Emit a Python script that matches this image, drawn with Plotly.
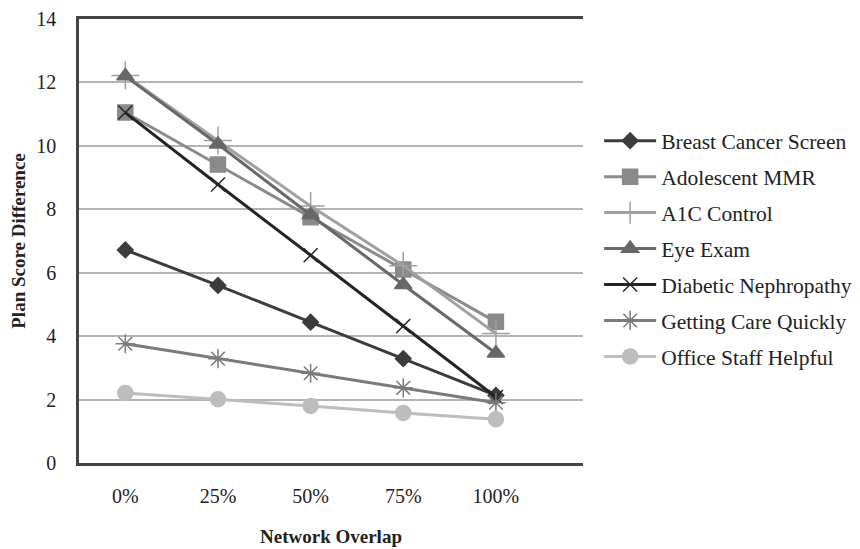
import plotly.graph_objects as go

categories = ["0%", "25%", "50%", "75%", "100%"]

breast_cancer_screen = [6.72, 5.60, 4.44, 3.29, 2.13]
adolescent_mmr = [11.05, 9.41, 7.75, 6.10, 4.45]
a1c_control = [12.22, 10.17, 8.10, 6.22, 4.08]
eye_exam = [12.20, 10.05, 7.82, 5.62, 3.46]
diabetic_nephropathy = [11.05, 8.78, 6.55, 4.32, 2.08]
getting_care_quickly = [3.76, 3.29, 2.83, 2.37, 1.90]
office_staff_helpful = [2.21, 2.01, 1.80, 1.58, 1.38]

series_names = ["Breast Cancer Screen", "Adolescent MMR", "A1C Control", "Eye Exam",
                "Diabetic Nephropathy", "Getting Care Quickly", "Office Staff Helpful"]
series_values = [breast_cancer_screen, adolescent_mmr, a1c_control, eye_exam,
                 diabetic_nephropathy, getting_care_quickly, office_staff_helpful]
colors = ["#3c3c3c", "#8a8a8a", "#a0a0a0", "#686868", "#252525", "#7a7a7a", "#bdbdbd"]
symbols = ["diamond", "square", "cross-thin", "triangle-up", "x-thin", "asterisk-open", "circle"]
sizes = [12, 15, 20, 15, 14, 16, 15]

FONT = "Liberation Serif"

fig = go.Figure()
for i, (name, vals) in enumerate(zip(series_names, series_values)):
    fig.add_trace(go.Scatter(
        x=categories, y=vals, name=name, mode="lines+markers",
        line=dict(color=colors[i], width=3),
        marker=dict(symbol=symbols[i], size=sizes[i], color=colors[i],
                    line=dict(color=colors[i], width=1.5)),
        legendgroup=f"g{i}",
    ))

fig.update_layout(
    width=852, height=541,
    margin=dict(l=71, r=277, t=11, b=86, autoexpand=False),
    paper_bgcolor="white", plot_bgcolor="white",
    font=dict(family=FONT, size=20, color="#222222"),
    showlegend=True,
    legend=dict(x=1.032, xanchor="left", y=0.772, yanchor="top",
                font=dict(family=FONT, size=21.5, color="#222222"),
                tracegroupgap=5, itemwidth=52, bgcolor="rgba(0,0,0,0)"),
    xaxis=dict(type="category", range=[-0.5, 4.94], showgrid=False, automargin=False,
               showline=True, linecolor="#444444", linewidth=2.5, mirror=True,
               ticks="", ticklabelstandoff=13,
               tickfont=dict(family=FONT, size=20, color="#222222"),
               title=dict(text="<b>Network Overlap</b>", standoff=24,
                          font=dict(family=FONT, size=19, color="#222222"))),
    yaxis=dict(range=[0, 14], dtick=2, showgrid=True, gridcolor="#b4b4b4", gridwidth=1.5,
               automargin=False, ticklabeloverflow="allow",
               zeroline=False, showline=True, linecolor="#444444", linewidth=2.5,
               ticks="", ticklabelstandoff=16,
               tickfont=dict(family=FONT, size=20, color="#222222"),
               title=dict(text="<b>Plan Score Difference</b>", standoff=7,
                          font=dict(family=FONT, size=19, color="#222222"))),
)

fig.write_html("out.html")
